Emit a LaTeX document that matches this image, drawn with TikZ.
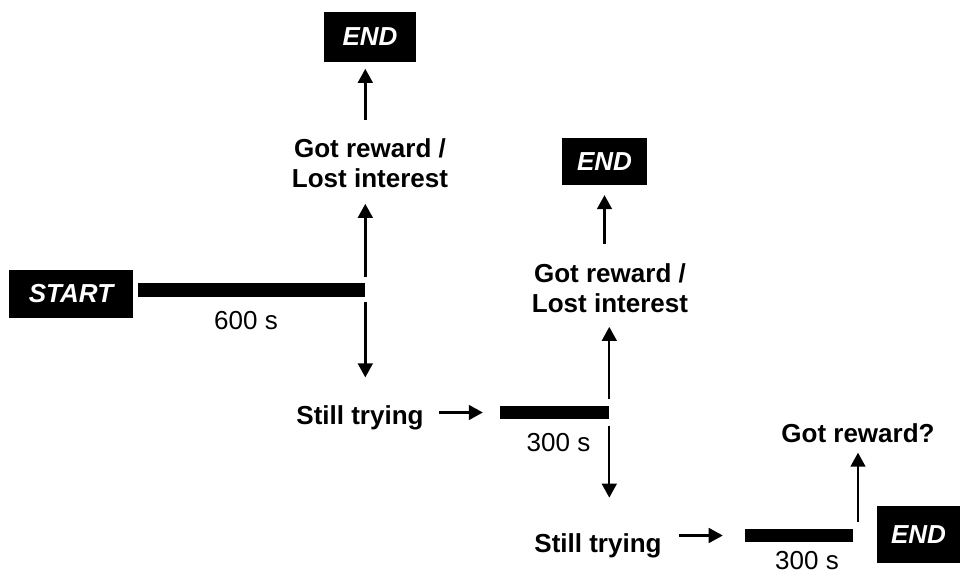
\documentclass[tikz,border=0pt]{standalone}
\usepackage{fontspec}
\setmainfont{Liberation Sans}
\usetikzlibrary{arrows.meta}

\begin{document}
\begin{tikzpicture}[x=0.025cm, y=-0.025cm,
		every node/.style={font=\fontsize{18.5}{21.3}\selectfont},
		txt/.style={inner sep=0pt, font=\fontsize{18.5}{21.3}\selectfont\bfseries, align=center},
		lbl/.style={inner sep=0pt},
		endbox/.style={fill=black, text=white, inner sep=0pt, font=\fontsize{18.5}{21.3}\selectfont\bfseries\itshape},
		bar/.style={fill=black, inner sep=0pt, minimum height=0.34cm},
		arr/.style={line width=1.7pt, -{Triangle[length=10pt, width=10.5pt]}}]
			%%%%% START %%%%%
			\useasboundingbox (0, 0) rectangle (960, 576);
			
			\node[endbox, minimum width=3.075cm, minimum height=1.2cm] (start) at (71, 294) {START};
			\node[bar, minimum width=5.675cm] (bar1) at (251.5, 290) {};
			\node[lbl] (t600) at (246, 321) {600 s};
			
			\node[txt] (gr1) at (370, 163) {Got reward /\\Lost interest};
			\node[endbox, minimum width=2.3cm, minimum height=1.225cm] (end1) at (370, 37) {END};
			
			\node[txt] (st1) at (360, 418) {Still trying};
			\node[bar, minimum width=2.725cm] (bar2) at (554.5, 412.5) {};
			\node[lbl] (t300a) at (558.5, 443) {300 s};
			
			\node[txt] (gr2) at (610, 288) {Got reward /\\Lost interest};
			\node[endbox, minimum width=2.1cm, minimum height=1.175cm] (end2) at (604.5, 161.5) {END};
			
			\node[txt] (st2) at (598, 546) {Still trying};
			\node[bar, minimum width=2.7cm] (bar3) at (799, 535.5) {};
			\node[lbl] (t300b) at (807, 561) {300 s};
			
			\node[txt] (gr3) at (858, 433) {Got reward?};
			\node[endbox, minimum width=2.075cm, minimum height=1.425cm] (end3) at (918.5, 534.5) {END};
			
			% first trial
			\draw[arr, shorten <=4.3pt, shorten >=11.4pt] (bar1.north east) -- (bar1.north east |- gr1.south);
			\draw[arr, shorten <=12.8pt, shorten >=5pt] (gr1.north -| bar1.east) -- (end1.south -| bar1.east);
			\draw[arr, shorten <=3.6pt, shorten >=20pt] (bar1.south east) -- (bar1.south east |- st1.north);
			\draw[arr, shorten <=10.7pt, shorten >=12pt] (st1.east |- bar2.west) -- (bar2.west);
			
			% second trial
			\draw[arr, shorten <=4.3pt, shorten >=10pt] (bar2.north east) -- (bar2.north east |- gr2.south);
			\draw[arr, shorten <=13.5pt, shorten >=7pt] (end2.south |- gr2.north) -- (end2.south);
			\draw[arr, shorten <=4.3pt, shorten >=25.5pt] (bar2.south east) -- (bar2.south east |- st2.north);
			\draw[arr, shorten <=12pt, shorten >=15.6pt] (st2.east |- bar3.west) -- (bar3.west);
			
			% third trial
			\draw[arr, shorten <=4.3pt, shorten >=7pt] (gr3.south |- bar3.north) -- (gr3.south);
			%%%%% END %%%%%
		\end{tikzpicture}
\end{document}
